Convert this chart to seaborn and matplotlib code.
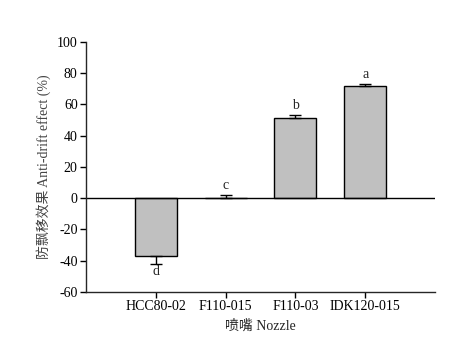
import numpy as np
import pandas as pd
import matplotlib
matplotlib.use("Agg")
import matplotlib.pyplot as plt
import seaborn as sns

# данные
nozzles = ["HCC80-02", "F110-015", "F110-03", "IDK120-015"]
effect = [-37.0, 0.0, 51.5, 72.0]
err = [5.0, 2.2, 2.0, 1.3]
letters = ["d", "c", "b", "a"]

sns.set_style("ticks")
plt.rcParams['font.family'] = ['Liberation Serif', 'Noto Sans CJK SC', 'DejaVu Sans']
plt.rcParams['font.size'] = 10
plt.rcParams['axes.unicode_minus'] = False

df = pd.DataFrame({"Nozzle": nozzles, "Effect": effect})

fig = plt.figure(figsize=(4.71, 3.58), dpi=100)
ax = fig.add_axes([0.1826, 0.1844, 0.741, 0.6983])

sns.barplot(data=df, x="Nozzle", y="Effect", color="#c0c0c0", edgecolor="black",
            linewidth=1, width=0.6, errorbar=None, saturation=1, ax=ax)

# односторонние планки погрешностей
x = np.arange(len(nozzles))
lower = [e if v < 0 else 0 for v, e in zip(effect, err)]
upper = [e if v >= 0 else 0 for v, e in zip(effect, err)]
ax.errorbar(x, effect, yerr=[lower, upper], fmt="none", ecolor="black",
            elinewidth=1, capsize=4, capthick=1)

for xi, v, e, l in zip(x, effect, err, letters):
    if v < 0:
        ax.text(xi, v - e - 1, l, ha="center", va="top", fontsize=10)
    else:
        ax.text(xi, v + e + 1.5, l, ha="center", va="bottom", fontsize=10)

ax.axhline(0, color="black", lw=1)
ax.set_xlim(-1, 4)
ax.set_ylim(-60, 100)
ax.set_yticks(np.arange(-60, 101, 20))
sns.despine(ax=ax)
ax.spines["left"].set_linewidth(1)
ax.spines["bottom"].set_linewidth(1)
ax.tick_params(direction="out", length=4, width=1, colors="black", pad=2)

ax.set_xlabel("喷嘴 Nozzle", fontsize=10, labelpad=4)
ax.set_ylabel("防飘移效果 Anti-drift effect (%)", fontsize=10, color="#444444", labelpad=4)

fig.savefig("out.png", dpi=100, facecolor="white")
